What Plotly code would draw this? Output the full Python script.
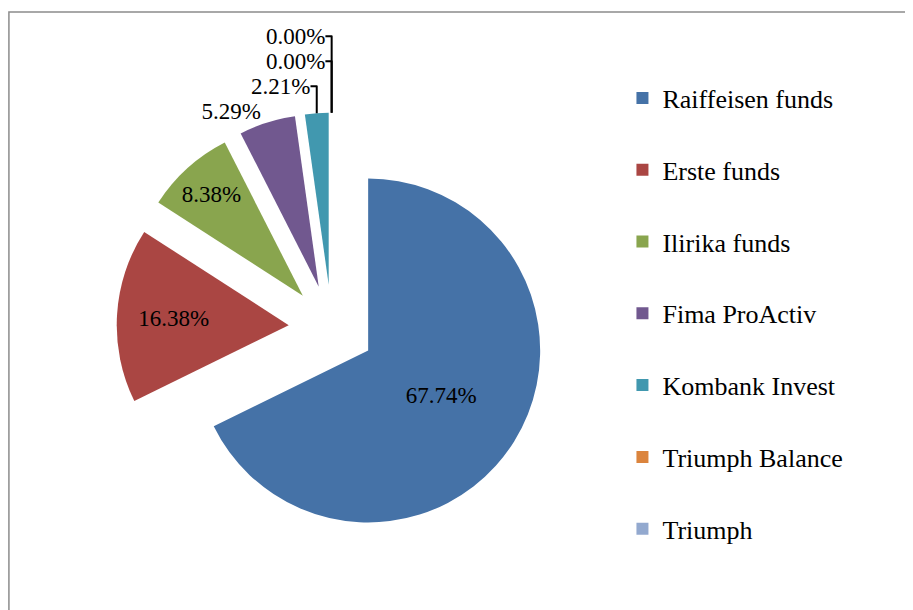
import plotly.graph_objects as go

categories = ["Raiffeisen funds", "Erste funds", "Ilirika funds", "Fima ProActiv",
              "Kombank Invest", "Triumph Balance", "Triumph"]
shares = [67.74, 16.38, 8.38, 5.29, 2.21, 0.00, 0.00]
colors = ["#4572A7", "#AA4643", "#89A54E", "#71588F", "#4198AF", "#DB843D", "#93A9CF"]
label_pos = ["inside", "inside", "inside", "outside", "outside", "outside", "outside"]

W, H = 913, 610
FONT = "Liberation Serif, Times New Roman, serif"

fig = go.Figure()
fig.add_trace(go.Pie(
    labels=categories,
    values=shares,
    sort=False,
    direction="clockwise",
    rotation=0,
    pull=[0.25] * len(shares),
    marker=dict(colors=colors, line=dict(width=0)),
    texttemplate=[f"{v:.2f}%" for v in shares],
    textinfo="text",
    textposition=label_pos,
    insidetextorientation="horizontal",
    textfont=dict(family=FONT, size=23, color="#000000"),
    showlegend=False,
    domain=dict(x=[0.119, 0.590], y=[0.1234, 0.8284]),
    hoverinfo="label+percent",
))

# legend entries
for name, c in zip(categories, colors):
    fig.add_trace(go.Scatter(
        x=[None], y=[None], mode="markers", name=name,
        marker=dict(symbol="square", size=12, color=c),
        legendgroup=name, showlegend=True,
    ))

fig.update_layout(
    width=W, height=H,
    margin=dict(l=0, r=0, t=0, b=0, autoexpand=False),
    paper_bgcolor="white", plot_bgcolor="white",
    xaxis=dict(visible=False), yaxis=dict(visible=False),
    legend=dict(
        x=0.673, y=0.891, xanchor="left", yanchor="top",
        font=dict(family=FONT, size=26, color="#000000"),
        tracegroupgap=35, itemsizing="constant",
        bgcolor="rgba(0,0,0,0)",
    ),
    shapes=[dict(type="rect", xref="paper", yref="paper",
                 x0=0.001, x1=1.02, y0=-0.02, y1=1 - 4 / H,
                 line=dict(color="#8c8c8c", width=1.5))],
)

fig.write_html("out.html")
